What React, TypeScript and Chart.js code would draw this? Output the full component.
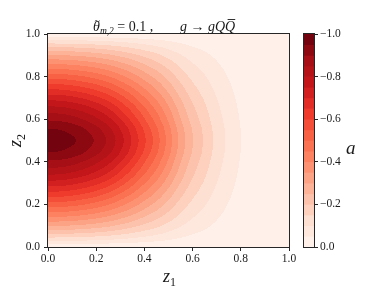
import React, { useEffect, useRef } from "react";
import { Chart, registerables } from "chart.js";
Chart.register(...registerables);

// ---- data ----
const z1Grid = [0, 0.05, 0.1, 0.15, 0.2, 0.25, 0.3, 0.35, 0.4, 0.45, 0.5, 0.55, 0.6, 0.65, 0.7, 0.75, 0.8, 0.85, 0.9, 0.95, 1.0];
// relative magnitude along z2 = 0.5
const rowProfile = [1.0, 0.994, 0.977, 0.948, 0.909, 0.857, 0.787, 0.708, 0.621, 0.535, 0.438, 0.34, 0.258, 0.196, 0.137, 0.09, 0.052, 0.022, 0.008, 0.002, 0.0];
const z2Grid = [0, 0.025, 0.05, 0.1, 0.15, 0.2, 0.25, 0.3, 0.35, 0.4, 0.45, 0.5, 0.55, 0.6, 0.65, 0.7, 0.75, 0.8, 0.85, 0.9, 0.95, 0.975, 1.0];
// relative magnitude along z1 = 0
const colProfile = [0.0, 0.09, 0.17, 0.31, 0.43, 0.54, 0.645, 0.745, 0.835, 0.91, 0.975, 1.0, 0.975, 0.91, 0.835, 0.745, 0.645, 0.54, 0.43, 0.31, 0.17, 0.09, 0.0];
const peakValue = -0.98;
const contourLevels = [-1.0, -0.95, -0.9, -0.85, -0.8, -0.75, -0.7, -0.65, -0.6, -0.55, -0.5, -0.45, -0.4, -0.35, -0.3, -0.25, -0.2, -0.15, -0.1, -0.05, 0.0];
const axisTicks = [0.0, 0.2, 0.4, 0.6, 0.8, 1.0];
const colorbarTicks = [-1.0, -0.8, -0.6, -0.4, -0.2, 0.0];

// table a[z2][z1] built from the profiles
const aTable = z2Grid.map((_, j) => z1Grid.map((_, i) => peakValue * rowProfile[i] * colProfile[j]));

const SERIF = "'Liberation Serif', 'DejaVu Serif', serif";
const INK = "#1a1a1a";
const SPINE = "#262626";

const REDS = [
  [255, 245, 240], [254, 224, 210], [252, 187, 161], [252, 146, 114], [251, 106, 74],
  [239, 59, 44], [203, 24, 29], [165, 15, 21], [103, 0, 13],
];
function reds(t: number) {
  const s = Math.max(0, Math.min(1, t)) * 8;
  const i = Math.min(7, Math.floor(s));
  const f = s - i;
  const a = REDS[i], b = REDS[i + 1];
  const c = a.map((v, k) => Math.round(v + (b[k] - v) * f));
  return `rgb(${c[0]},${c[1]},${c[2]})`;
}
const nBands = contourLevels.length - 1;
const lo = contourLevels[0], hi = contourLevels[nBands];
const bandColors = Array.from({ length: nBands }, (_, k) => {
  const mid = (contourLevels[k] + contourLevels[k + 1]) / 2;
  return reds(1 - (mid - lo) / (hi - lo));
});

// monotone cubic (Fritsch–Carlson) slopes
function pchipSlopes(xs: number[], ys: number[]) {
  const n = xs.length;
  const d: number[] = [];
  for (let i = 0; i < n - 1; i++) d.push((ys[i + 1] - ys[i]) / (xs[i + 1] - xs[i]));
  const m = new Array(n).fill(0);
  m[0] = d[0];
  m[n - 1] = d[n - 2];
  for (let i = 1; i < n - 1; i++) {
    if (d[i - 1] * d[i] <= 0) m[i] = 0;
    else {
      const h0 = xs[i] - xs[i - 1], h1 = xs[i + 1] - xs[i];
      const w1 = 2 * h1 + h0, w2 = h1 + 2 * h0;
      m[i] = (w1 + w2) / (w1 / d[i - 1] + w2 / d[i]);
    }
  }
  return m;
}
function hermite(xs: number[], ys: number[], m: number[], v: number) {
  let i = 0;
  while (i < xs.length - 2 && v > xs[i + 1]) i++;
  const h = xs[i + 1] - xs[i];
  const t = Math.max(0, Math.min(1, (v - xs[i]) / h));
  const t2 = t * t, t3 = t2 * t;
  return (2 * t3 - 3 * t2 + 1) * ys[i] + (t3 - 2 * t2 + t) * h * m[i] + (-2 * t3 + 3 * t2) * ys[i + 1] + (t3 - t2) * h * m[i + 1];
}
function bandOf(v: number) {
  for (let k = 0; k < nBands; k++) {
    if (v < contourLevels[k + 1]) return k;
  }
  return nBands - 1;
}

type Run = { t: string; size: number; italic?: boolean; dy?: number; x?: number };
function drawRuns(ctx: CanvasRenderingContext2D, x: number, y: number, parts: Run[]) {
  let cx = x;
  const pos: number[] = [];
  for (const p of parts) {
    ctx.font = `${p.italic ? "italic " : ""}${p.size}px ${SERIF}`;
    if (p.x !== undefined) cx = p.x;
    pos.push(cx);
    ctx.fillText(p.t, cx, y + (p.dy || 0));
    cx += ctx.measureText(p.t).width;
  }
  return pos;
}
function measureRuns(ctx: CanvasRenderingContext2D, parts: Run[]) {
  let w = 0;
  for (const p of parts) {
    ctx.font = `${p.italic ? "italic " : ""}${p.size}px ${SERIF}`;
    w += ctx.measureText(p.t).width;
  }
  return w;
}

const contourPlugin = {
  id: "contourFill",
  beforeDatasetsDraw(chart: any) {
    const { ctx, chartArea, scales } = chart;
    const xs = scales.x, ys = scales.y;
    const L = Math.round(chartArea.left), R = Math.round(chartArea.right);
    const T = Math.round(chartArea.top), B = Math.round(chartArea.bottom);
    const nCols = z1Grid.length;
    const colSlopes = z1Grid.map((_, i) => pchipSlopes(z2Grid, aTable.map((r) => r[i])));
    ctx.save();
    for (let py = T; py < B; py++) {
      const z2 = ys.getValueForPixel(py + 0.5);
      const rowVec: number[] = [];
      for (let i = 0; i < nCols; i++) rowVec.push(hermite(z2Grid, aTable.map((r) => r[i]), colSlopes[i], z2));
      const slopes = pchipSlopes(z1Grid, rowVec);
      let runStart = L, runBand = -1;
      for (let px = L; px <= R; px++) {
        let band = -2;
        if (px < R) band = bandOf(hermite(z1Grid, rowVec, slopes, xs.getValueForPixel(px + 0.5)));
        if (band !== runBand) {
          if (runBand >= 0) {
            ctx.fillStyle = bandColors[runBand];
            ctx.fillRect(runStart, py, px - runStart, 1);
          }
          runStart = px;
          runBand = band;
        }
      }
    }
    ctx.restore();
  },
  afterDraw(chart: any) {
    const { ctx, chartArea } = chart;
    const { left, right, top, bottom } = chartArea;
    ctx.save();
    ctx.strokeStyle = SPINE;
    ctx.lineWidth = 1;
    ctx.strokeRect(Math.round(left) - 0.5, Math.round(top) - 0.5, Math.round(right - left) + 1, Math.round(bottom - top) + 1);

    ctx.fillStyle = INK;
    ctx.textBaseline = "alphabetic";
    ctx.textAlign = "left";
    // title
    const title: Run[] = [
      { t: "θ", size: 14, italic: true, x: 93 },
      { t: "m,2", size: 9.5, italic: true, dy: 3 },
      { t: " = 0.1 ,", size: 14 },
      { t: "g", size: 14, italic: true, x: 180 },
      { t: " → ", size: 14 },
      { t: "gQ", size: 14, italic: true },
      { t: "Q", size: 14, italic: true },
    ];
    const ty = top - 3.5;
    const pos = drawRuns(ctx, 0, ty, title);
    // tilde over theta
    ctx.font = `10px ${SERIF}`;
    ctx.fillText("~", pos[0] + 1.5, ty - 6.5);
    // bar over last Q
    ctx.font = `italic 14px ${SERIF}`;
    const qw = ctx.measureText("Q").width;
    ctx.fillRect(pos[6] + 2.5, ty - 11.5, qw - 2.5, 0.9);

    // x label
    const xl: Run[] = [
      { t: "z", size: 18, italic: true },
      { t: "1", size: 12, dy: 4 },
    ];
    const xw = measureRuns(ctx, xl);
    drawRuns(ctx, (left + right) / 2 - xw / 2 + 1, 282, xl);

    // y label (rotated)
    ctx.save();
    ctx.translate(21, (top + bottom) / 2);
    ctx.rotate(-Math.PI / 2);
    const yl: Run[] = [
      { t: "z", size: 18, italic: true },
      { t: "2", size: 12, dy: 4 },
    ];
    const yw = measureRuns(ctx, yl);
    drawRuns(ctx, -yw / 2, 0, yl);
    ctx.restore();
    ctx.restore();
  },
};

const colorbarPlugin = {
  id: "colorbarFrame",
  afterDraw(chart: any) {
    const { ctx, chartArea } = chart;
    const { left, right, top, bottom } = chartArea;
    ctx.save();
    ctx.strokeStyle = SPINE;
    ctx.lineWidth = 1;
    ctx.strokeRect(Math.round(left) - 0.5, Math.round(top) - 0.5, Math.round(right - left) + 1, Math.round(bottom - top) + 1);
    ctx.fillStyle = INK;
    ctx.font = `italic 19px ${SERIF}`;
    ctx.textAlign = "left";
    ctx.textBaseline = "alphabetic";
    ctx.fillText("a", 346, 154);
    ctx.restore();
  },
};

function fmtTick(v: number) {
  const n = Number(v);
  if (Math.abs(n) < 1e-9) return "0.0";
  return (n < 0 ? "\u2212" : "") + Math.abs(n).toFixed(1);
}

export default function App() {
  const mainRef = useRef<HTMLCanvasElement>(null);
  const cbRef = useRef<HTMLCanvasElement>(null);

  useEffect(() => {
    const tickFont = { family: SERIF, size: 11.5 };
    const main = new Chart(mainRef.current!, {
      type: "scatter",
      data: { datasets: [{ data: [], pointRadius: 0 }] },
      options: {
        animation: false,
        responsive: false,
        devicePixelRatio: 1,
        layout: { padding: { left: 0, right: 99, top: 34, bottom: 0 } },
        plugins: { legend: { display: false }, tooltip: { enabled: false }, title: { display: false } },
        scales: {
          x: {
            type: "linear",
            min: 0,
            max: 1,
            afterFit: (s: any) => { s.height = 44; },
            afterBuildTicks: (s: any) => { s.ticks = axisTicks.map((v) => ({ value: v })); },
            ticks: { font: tickFont, color: INK, padding: 1, maxRotation: 0, callback: (v: any) => fmtTick(v) },
            grid: { drawOnChartArea: false, drawTicks: true, tickLength: 4, color: SPINE },
            border: { display: true, color: SPINE },
          },
          y: {
            type: "linear",
            min: 0,
            max: 1,
            afterFit: (s: any) => { s.width = 48; },
            afterBuildTicks: (s: any) => { s.ticks = axisTicks.map((v) => ({ value: v })); },
            ticks: { font: tickFont, color: INK, padding: 4, callback: (v: any) => fmtTick(v) },
            grid: { drawOnChartArea: false, drawTicks: true, tickLength: 4, color: SPINE },
            border: { display: true, color: SPINE },
          },
        },
      },
      plugins: [contourPlugin],
    } as any);

    const cbDatasets = bandColors.map((c, k) => ({
      data: [[contourLevels[k], contourLevels[k + 1]]],
      backgroundColor: c,
      borderWidth: 0,
      barPercentage: 1,
      categoryPercentage: 1,
    }));
    const cb = new Chart(cbRef.current!, {
      type: "bar",
      data: { labels: ["a"], datasets: cbDatasets },
      options: {
        animation: false,
        responsive: false,
        devicePixelRatio: 1,
        layout: { padding: { left: 304, right: 0, top: 34, bottom: 44 } },
        plugins: { legend: { display: false }, tooltip: { enabled: false } },
        scales: {
          x: { display: false, stacked: true },
          y: {
            position: "right",
            min: lo,
            max: hi,
            reverse: true,
            afterFit: (s: any) => { s.width = 74; },
            afterBuildTicks: (s: any) => { s.ticks = colorbarTicks.map((v) => ({ value: v })); },
            ticks: { font: tickFont, color: INK, padding: 2, callback: (v: any) => fmtTick(v) },
            grid: { drawOnChartArea: false, drawTicks: true, tickLength: 4, color: SPINE },
            border: { display: true, color: SPINE },
          },
        },
      },
      plugins: [colorbarPlugin],
    } as any);

    return () => {
      main.destroy();
      cb.destroy();
    };
  }, []);

  return (
    <div style={{ position: "absolute", left: 0, top: 0, width: 388, height: 291, background: "#fff" }}>
      <canvas ref={mainRef} width={388} height={291} style={{ position: "absolute", left: 0, top: 0 }} />
      <canvas ref={cbRef} width={388} height={291} style={{ position: "absolute", left: 0, top: 0, pointerEvents: "none" }} />
    </div>
  );
}
